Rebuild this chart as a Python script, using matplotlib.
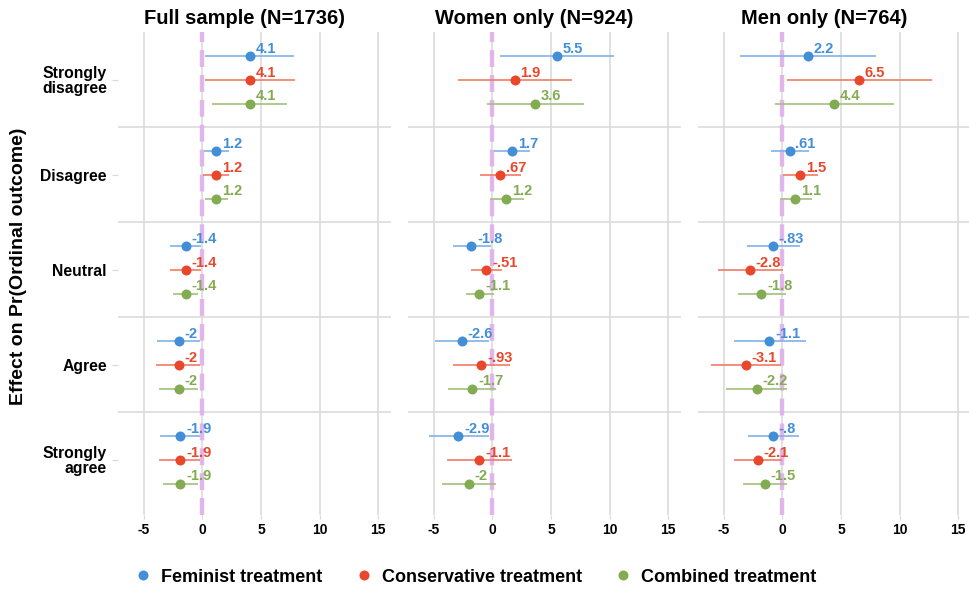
import matplotlib
matplotlib.use("Agg")
import matplotlib.pyplot as plt
from matplotlib.lines import Line2D

plt.rcParams['font.family'] = ['Liberation Sans', 'DejaVu Sans']
plt.rcParams['font.weight'] = 'bold'

categories = ["Strongly\ndisagree", "Disagree", "Neutral", "Agree", "Strongly\nagree"]
panel_titles = ["Full sample (N=1736)", "Women only (N=924)", "Men only (N=764)"]
treatments = ["Feminist treatment", "Conservative treatment", "Combined treatment"]
x_ticks = [-5, 0, 5, 10, 15]

# Full sample
full_fem = [4.1, 1.2, -1.4, -2, -1.9]
full_fem_lo = [0.26, 0.10, -2.76, -3.85, -3.60]
full_fem_hi = [7.80, 2.25, -0.09, -0.20, -0.20]
full_con = [4.1, 1.2, -1.4, -2, -1.9]
full_con_lo = [0.26, 0.03, -2.80, -3.96, -3.70]
full_con_hi = [7.90, 2.30, -0.10, -0.20, -0.20]
full_com = [4.1, 1.2, -1.4, -2, -1.9]
full_com_lo = [0.85, 0.20, -2.50, -3.70, -3.40]
full_com_hi = [7.20, 2.20, -0.37, -0.40, -0.40]

# Women only
women_fem = [5.5, 1.7, -1.8, -2.6, -2.9]
women_fem_lo = [0.62, 0.17, -3.39, -4.86, -5.40]
women_fem_hi = [10.40, 3.24, -0.11, -0.28, -0.28]
women_con = [1.9, 0.67, -0.51, -0.93, -1.1]
women_con_lo = [-2.93, -1.02, -1.82, -3.33, -3.87]
women_con_hi = [6.77, 2.45, 0.85, 1.48, 1.70]
women_com = [3.6, 1.2, -1.1, -1.7, -2]
women_com_lo = [-0.45, -0.23, -2.24, -3.75, -4.33]
women_com_hi = [7.80, 2.67, 0.11, 0.34, 0.34]

# Men only
men_fem = [2.2, 0.61, -0.83, -1.1, -0.8]
men_fem_lo = [-3.63, -1.00, -3.06, -4.14, -2.93]
men_fem_hi = [8.03, 2.30, 1.47, 2.00, 1.45]
men_con = [6.5, 1.5, -2.8, -3.1, -2.1]
men_con_lo = [0.37, 0.08, -5.53, -6.07, -4.12]
men_con_hi = [12.77, 3.03, 0.03, -0.14, -0.03]
men_com = [4.4, 1.1, -1.8, -2.2, -1.5]
men_com_lo = [-0.66, -0.23, -3.80, -4.77, -3.35]
men_com_hi = [9.53, 2.52, 0.34, 0.43, 0.37]

panels = [
    [(full_fem, full_fem_lo, full_fem_hi), (full_con, full_con_lo, full_con_hi), (full_com, full_com_lo, full_com_hi)],
    [(women_fem, women_fem_lo, women_fem_hi), (women_con, women_con_lo, women_con_hi), (women_com, women_com_lo, women_com_hi)],
    [(men_fem, men_fem_lo, men_fem_hi), (men_con, men_con_lo, men_con_hi), (men_com, men_com_lo, men_com_hi)],
]

point_colors = ["#428fd8", "#e8472b", "#83ab52"]
line_colors = ["#7fb3e6", "#f07c66", "#a2c07c"]
offsets = [-0.25, 0.0, 0.25]
grid_color = "#d9d9d9"


def fmt(v):
    s = "{:.2g}".format(v)
    s = s.replace("-0.", "-.")
    if s.startswith("0."):
        s = s[1:]
    return s


fig = plt.figure(figsize=(9.7, 5.91), dpi=100)
W, H = 970.0, 591.0
lefts = [118, 408, 698]
pw = 273
top, bottom = 32, 515

for p, (series, title) in enumerate(zip(panels, panel_titles)):
    ax = fig.add_axes([lefts[p] / W, 1 - bottom / H, pw / W, (bottom - top) / H])
    ax.set_xlim(-7.2, 16.1)
    ax.set_ylim(4.58, -0.505)
    for s in ax.spines.values():
        s.set_visible(False)
    for xt in x_ticks:
        ax.axvline(xt, color=grid_color, lw=1.1, zorder=0)
    for b in [0.5, 1.5, 2.5, 3.5]:
        ax.axhline(b, color=grid_color, lw=1.1, zorder=0)
    ax.axvline(0, color="#dfb0ea", lw=3.2, dashes=(3.8, 1.8), alpha=0.9, zorder=1)

    for k, (est, lo, hi) in enumerate(series):
        for i in range(len(categories)):
            y = i + offsets[k]
            ax.plot([lo[i], hi[i]], [y, y], color=line_colors[k], lw=1.2, zorder=2,
                    solid_capstyle="butt")
            ax.plot(est[i], y, "o", color=point_colors[k], ms=7.2, mec="none", zorder=3)
            ax.annotate(fmt(est[i]), (est[i], y), xytext=(4.2, 2.4), textcoords="offset points",
                        ha="left", va="baseline", color=point_colors[k], fontsize=10.5,
                        fontweight="bold", zorder=4)

    ax.set_xticks(x_ticks)
    ax.set_xticklabels([str(t) for t in x_ticks], fontsize=10, fontweight="bold")
    ax.tick_params(axis="x", length=3, color=grid_color, pad=3)
    ax.set_yticks(range(len(categories)))
    if p == 0:
        ax.set_yticklabels(categories, fontsize=11.3, fontweight="bold", linespacing=0.95)
        ax.tick_params(axis="y", length=4, color=grid_color, pad=4)
    else:
        ax.set_yticklabels([])
        ax.tick_params(axis="y", length=0)
    ax.text(0.5 - 10 / pw, 1 + 14 / (bottom - top), title, transform=ax.transAxes,
            ha="center", va="center", fontsize=14.5, fontweight="bold")

fig.text(0.019, 1 - 266 / H, "Effect on Pr(Ordinal outcome)", rotation=90,
         ha="center", va="center", fontsize=14, fontweight="bold")

handles = [Line2D([], [], ls="none", marker="o", ms=7.2, color=c, mec="none") for c in point_colors]
fig.legend(handles, treatments, loc="center", bbox_to_anchor=(0.49, 1 - 577 / H), ncol=3,
           frameon=False, handletextpad=0.5, columnspacing=1.8, handlelength=1.0,
           prop={"weight": "bold", "size": 13})

fig.savefig("out.png", dpi=100)
